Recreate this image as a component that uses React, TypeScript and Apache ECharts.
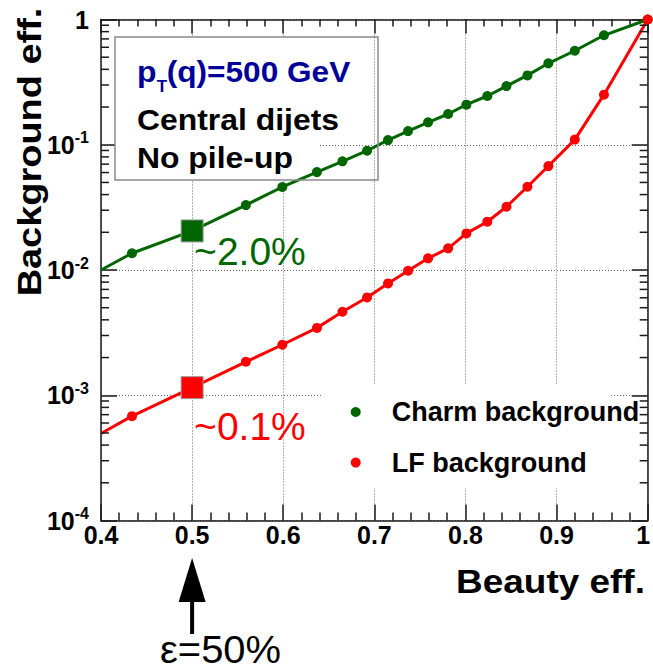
import React, { useEffect, useRef } from 'react';
import * as echarts from 'echarts';

// Beauty efficiency (x) of each working point
const beautyEff = [0.4, 0.434, 0.5, 0.559, 0.599, 0.637, 0.665, 0.692, 0.715, 0.737, 0.759, 0.781, 0.801, 0.824, 0.845, 0.868, 0.891, 0.92, 0.952, 1.0];
// Charm background efficiency
const charmEff = [0.0100, 0.0136, 0.0205, 0.033, 0.046, 0.0605, 0.0737, 0.0896, 0.109, 0.1286, 0.151, 0.176, 0.209, 0.245, 0.294, 0.358, 0.447, 0.563, 0.748, 1.0];
// Light-flavour background efficiency
const lfEff = [0.000495, 0.000681, 0.00115, 0.00185, 0.00253, 0.00345, 0.00464, 0.00604, 0.00781, 0.00986, 0.0124, 0.0149, 0.0196, 0.0243, 0.032, 0.0462, 0.0676, 0.110, 0.251, 1.0];

// Highlighted working point at 50% beauty efficiency
const wpEff = [0.5];
const wpCharm = [0.0205];
const wpLF = [0.00115];
const wpLabels = ['~2.0%', '~0.1%'];

const seriesNames = ['Charm background', 'LF background'];
const boxLines = ['Central dijets', 'No pile-up'];

const xMin = 0.4;
const xMax = 1.0;
const xStep = 0.1;
const yMin = 1e-4;
const yMax = 1;
// minor log ticks 2..9 × 10^d
const minorMultipliers = [2, 3, 4, 5, 6, 7, 8, 9];
const decades = [-4, -3, -2, -1];

const FONT = '"Liberation Sans", Arial, Helvetica, sans-serif';
const GREEN = '#006600';
const RED = '#ff0000';
const BLUE = '#000099';
const AXIS = '#1a1a1a';

export default function App() {
  const ref = useRef<HTMLDivElement>(null);

  useEffect(() => {
    const chart = echarts.init(ref.current!, null, { renderer: 'svg' });

    const minorVals: number[][] = [];
    decades.forEach((d) => minorMultipliers.forEach((m) => minorVals.push([xMin, m * Math.pow(10, d)])));

    const lineData = (ys: number[]) =>
      beautyEff.map((x, i) => (i === 0 ? { value: [x, ys[i]], symbol: 'none' } : [x, ys[i]]));

    const tickStyle = { color: AXIS, width: 1.5 };
    const gridLine = { show: true, lineStyle: { color: '#666', width: 1, type: [1, 2] as any } };

    const option: any = {
      animation: false,
      backgroundColor: '#fff',
      grid: { left: 101, right: 5.3, top: 19.5, bottom: 148.5, containLabel: false, outerBoundsMode: 'none' },
      legend: {
        show: true,
        data: seriesNames,
        orient: 'vertical',
        left: 350.7,
        top: 397,
        padding: 0,
        icon: 'circle',
        itemWidth: 10,
        itemHeight: 10,
        itemGap: 20.6,
        selectedMode: false,
        textStyle: {
          fontFamily: FONT,
          fontWeight: 'bold',
          fontSize: 27,
          color: '#000',
          lineHeight: 30,
          padding: [0, 0, 0, 26],
        },
        z: 4,
      },
      xAxis: [
        {
          type: 'value',
          min: xMin,
          max: xMax,
          interval: xStep,
          position: 'bottom',
          axisLine: { show: true, lineStyle: tickStyle },
          axisTick: { show: true, inside: true, length: 16, lineStyle: tickStyle },
          minorTick: { show: true, splitNumber: 5, length: 8, lineStyle: tickStyle },
          splitLine: gridLine,
          axisLabel: {
            show: true,
            margin: 2,
            fontFamily: FONT,
            fontWeight: 'bold',
            fontSize: 25,
            color: '#000',
            showMinLabel: true,
            showMaxLabel: true,
            formatter: (v: number) => (Math.abs(v - 1) < 1e-9 ? '{r|1}' : v.toFixed(1)),
            rich: {
              r: { fontFamily: FONT, fontWeight: 'bold', fontSize: 25, color: '#000', padding: [0, 9, 0, 0] },
            },
          },
        },
        {
          type: 'value',
          min: xMin,
          max: xMax,
          interval: xStep,
          position: 'top',
          axisLine: { show: true, lineStyle: tickStyle },
          axisTick: { show: true, inside: true, length: 14, lineStyle: tickStyle },
          minorTick: { show: true, splitNumber: 5, length: 7, lineStyle: tickStyle },
          splitLine: { show: false },
          axisLabel: { show: false },
        },
      ],
      yAxis: [
        {
          type: 'log',
          logBase: 10,
          min: yMin,
          max: yMax,
          position: 'left',
          axisLine: { show: true, lineStyle: tickStyle },
          axisTick: { show: true, inside: true, length: 16, lineStyle: tickStyle },
          splitLine: gridLine,
          axisLabel: {
            show: true,
            margin: 12,
            showMinLabel: true,
            showMaxLabel: true,
            formatter: (v: number) => {
              const e = Math.round(Math.log10(v));
              return e === 0 ? '{b|1}' : `{b|10}{s|${e}}`;
            },
            rich: {
              b: { fontFamily: FONT, fontWeight: 'bold', fontSize: 25, color: '#000', lineHeight: 30 },
              s: { fontFamily: FONT, fontWeight: 'bold', fontSize: 16, color: '#000', lineHeight: 15, verticalAlign: 'top' },
            },
          },
        },
        {
          type: 'log',
          logBase: 10,
          min: yMin,
          max: yMax,
          position: 'right',
          axisLine: { show: true, lineStyle: tickStyle },
          axisTick: { show: true, inside: true, length: 16, lineStyle: tickStyle },
          splitLine: { show: false },
          axisLabel: { show: false },
        },
      ],
      series: [
        {
          name: 'minorTicks',
          type: 'custom',
          xAxisIndex: 0,
          yAxisIndex: 0,
          silent: true,
          z: 3,
          data: minorVals,
          renderItem: (params: any, api: any) => {
            const v = api.value(1);
            const l = api.coord([xMin, v]);
            const r = api.coord([xMax, v]);
            const st = { stroke: AXIS, lineWidth: 1.5 };
            return {
              type: 'group',
              children: [
                { type: 'line', shape: { x1: l[0], y1: l[1], x2: l[0] + 8, y2: l[1] }, style: st },
                { type: 'line', shape: { x1: r[0], y1: r[1], x2: r[0] - 8, y2: r[1] }, style: st },
              ],
            };
          },
        },
        {
          name: seriesNames[0],
          type: 'line',
          data: lineData(charmEff),
          symbol: 'circle',
          symbolSize: 10,
          color: GREEN,
          itemStyle: { color: GREEN, opacity: 1 },
          lineStyle: { color: GREEN, width: 3 },
          z: 2,
        },
        {
          name: seriesNames[1],
          type: 'line',
          data: lineData(lfEff),
          symbol: 'circle',
          symbolSize: 10,
          color: RED,
          itemStyle: { color: RED, opacity: 1 },
          lineStyle: { color: RED, width: 3 },
          z: 2,
        },
        {
          name: 'wpCharm',
          type: 'scatter',
          data: wpEff.map((x, i) => [x, wpCharm[i]]),
          symbol: 'rect',
          symbolSize: 22,
          itemStyle: { color: GREEN, borderColor: '#9a9a9a', borderWidth: 1, opacity: 1 },
          z: 5,
        },
        {
          name: 'wpLF',
          type: 'scatter',
          data: wpEff.map((x, i) => [x, wpLF[i]]),
          symbol: 'rect',
          symbolSize: 22,
          itemStyle: { color: RED, borderColor: '#9a9a9a', borderWidth: 1, opacity: 1 },
          z: 5,
        },
      ],
    };

    chart.setOption(option);

    const px = chart.convertToPixel({ xAxisIndex: 0 }, wpEff[0]) as number;

    const txt = (text: string, x: number, y: number, font: string, fill: string, align: string, extra: any = {}) => ({
      type: 'text',
      x,
      y,
      z: 6,
      ...extra,
      style: {
        text,
        font,
        fill,
        align,
        textAlign: align,
        verticalAlign: 'middle',
        textVerticalAlign: 'middle',
      },
    });

    chart.setOption({
      graphic: [
        // white fill of the info box (partial, as in the original)
        { type: 'rect', z: 1, shape: { x: 115, y: 37, width: 205, height: 143 }, style: { fill: '#fff' } },
        { type: 'rect', z: 3, shape: { x: 115, y: 37, width: 263, height: 143 }, style: { fill: 'none', stroke: '#8a8a8a', lineWidth: 1.5 } },
        // white fill behind legend
        { type: 'rect', z: 1, shape: { x: 322, y: 384, width: 288, height: 104 }, style: { fill: '#fff' } },
        // info box text
        txt('p', 137, 71.7, `bold 29px ${FONT}`, BLUE, 'left', { scaleX: 1.1 }),
        txt('T', 156.7, 86, `bold 17px ${FONT}`, BLUE, 'left'),
        txt('(q)=500 GeV', 166.7, 71.7, `bold 29px ${FONT}`, BLUE, 'left', { scaleX: 1.09 }),
        txt(boxLines[0], 137, 120, `bold 29px ${FONT}`, '#000', 'left', { scaleX: 1.1 }),
        txt(boxLines[1], 137, 157.3, `bold 29px ${FONT}`, '#000', 'left', { scaleX: 1.1 }),
        // working point labels
        txt(wpLabels[0], px + 2, 251.5, `39px ${FONT}`, GREEN, 'left'),
        txt(wpLabels[1], px + 2, 426.5, `39px ${FONT}`, RED, 'left'),
        // axis titles
        txt('Beauty eff.', 550.5, 581.6, `bold 33px ${FONT}`, '#000', 'center', { scaleX: 1.12 }),
        txt('Background eff.', 29.5, 152, `bold 33px ${FONT}`, '#000', 'center', { rotation: Math.PI / 2, scaleX: 1.15 }),
        // arrow to the working point
        { type: 'polygon', z: 6, shape: { points: [[px, 558], [px - 13.5, 602], [px + 13.5, 602]] }, style: { fill: '#000' } },
        { type: 'line', z: 6, shape: { x1: px, y1: 600, x2: px, y2: 634 }, style: { stroke: '#000', lineWidth: 4 } },
        txt('ε=50%', 220.5, 649.5, `38px ${FONT}`, '#000', 'center', { scaleX: 1.05 }),
      ],
    });

    return () => chart.dispose();
  }, []);

  return <div ref={ref} style={{ position: 'fixed', left: 0, top: 0, width: 653, height: 669 }} />;
}
